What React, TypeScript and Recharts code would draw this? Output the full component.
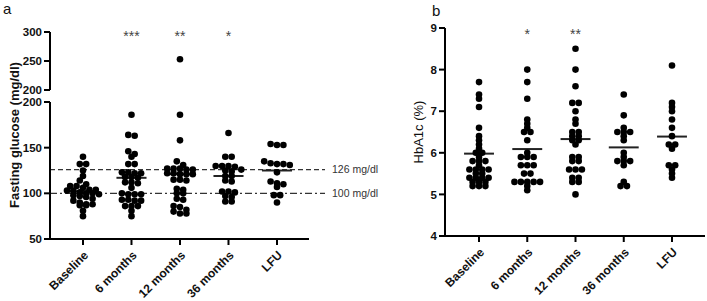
import { ScatterChart, Scatter, XAxis, YAxis, ReferenceLine } from 'recharts';

const categories = ['Baseline', '6 months', '12 months', '36 months', 'LFU'];

// fasting glucose (mg/dl)
const glucoseBaseline = [140, 132, 132, 125, 119, 114, 110, 108, 108, 106, 104, 104, 103, 103, 101, 100, 100, 99, 98, 97, 96, 94, 92, 90, 88, 88, 87, 87, 81, 75];
const glucose6m = [186, 163, 164, 146, 143, 140, 132, 132, 123, 123, 122, 122, 118, 118, 117, 112, 112, 111, 106, 100, 99, 99, 99, 93, 93, 92, 92, 86, 86, 86, 81, 75];
const glucose12m = [253, 186, 158, 135, 131, 127, 127, 127, 126, 126, 122, 122, 121, 121, 121, 115, 115, 114, 105, 104, 100, 100, 94, 93, 86, 85, 82, 80, 78, 78];
const glucose36m = [166, 140, 140, 130, 130, 130, 129, 126, 125, 124, 119, 119, 114, 113, 102, 102, 101, 97, 96, 91, 91];
const glucoseLfu = [153, 153, 154, 135, 132, 132, 133, 131, 123, 113, 110, 111, 107, 98, 98, 90];
const glucoseMeans = [102, 117, 121, 119, 125];
const glucoseStars = ['', '***', '**', '*', ''];

// HbA1c (%)
const hba1cBaseline = [7.7, 7.4, 7.3, 7.1, 6.6, 6.4, 6.3, 6.2, 6.1, 6.0, 6.0, 5.9, 5.8, 5.8, 5.8, 5.7, 5.6, 5.6, 5.6, 5.6, 5.5, 5.5, 5.4, 5.4, 5.4, 5.4, 5.3, 5.3, 5.3, 5.2, 5.2, 5.2];
const hba1c6m = [8.0, 7.7, 7.3, 6.8, 6.7, 6.6, 6.5, 6.5, 6.3, 6.0, 5.9, 5.9, 5.9, 5.7, 5.7, 5.7, 5.5, 5.5, 5.3, 5.3, 5.3, 5.3, 5.3, 5.2, 5.1];
const hba1c12m = [8.5, 8.0, 7.6, 7.2, 7.2, 7.0, 6.8, 6.7, 6.5, 6.5, 6.4, 6.4, 6.3, 6.3, 6.2, 5.9, 5.9, 5.8, 5.8, 5.6, 5.6, 5.6, 5.4, 5.4, 5.3, 5.3, 5.0];
const hba1c36m = [7.4, 6.9, 6.6, 6.5, 6.5, 6.5, 6.4, 6.3, 6.0, 5.9, 5.8, 5.8, 5.8, 5.7, 5.3, 5.2, 5.2];
const hba1cLfu = [8.1, 7.2, 7.1, 7.0, 6.8, 6.6, 6.4, 6.2, 6.2, 6.1, 5.7, 5.7, 5.6, 5.5, 5.4];
const hba1cMeans = [5.98, 6.09, 6.33, 6.13, 6.39];
const hba1cStars = ['', '*', '**', '', ''];

// scatter dots into centred rows, like a column scatter plot
function swarm(groups: number[][], pxPerUnit: number, pxPerCat: number) {
  const pts: { x: number; y: number }[] = [];
  groups.forEach((vals, i) => {
    const sorted = [...vals].sort((a, b) => b - a);
    let row: number[] = [];
    const flush = () => {
      row.forEach((v, k) => pts.push({ x: i + ((k - (row.length - 1) / 2) * 6.4) / pxPerCat, y: v }));
      row = [];
    };
    sorted.forEach((v) => {
      if (row.length && (row[0] - v) * pxPerUnit > 4) flush();
      row.push(v);
    });
    flush();
  });
  return pts;
}

const glucosePts = swarm([glucoseBaseline, glucose6m, glucose12m, glucose36m, glucoseLfu], 0.91, 48.5);
const glucoseLow = glucosePts.filter((p) => p.y <= 200);
const glucoseHigh = glucosePts.filter((p) => p.y > 200);
const hba1cPts = swarm([hba1cBaseline, hba1c6m, hba1c12m, hba1c36m, hba1cLfu], 41.5, 48.25);

const starsA = glucoseStars.map((s, i) => ({ x: i, y: 300, label: s })).filter((d) => d.label);
const starsB = hba1cStars.map((s, i) => ({ x: i, y: 9, label: s })).filter((d) => d.label);

const axisLine = { stroke: '#000', strokeWidth: 2 };

const YTick = ({ x, y, payload }: any) => (
  <text x={x} y={y} dy="0.36em" textAnchor="end" fontSize={11.5} fontWeight={700} fill="#111">
    {payload.value}
  </text>
);

const RotTick = ({ x, y, payload }: any) => (
  <g transform={`translate(${x + 3},${y + 6})`}>
    <text textAnchor="end" transform="rotate(-45)" dy="0.35em" fontSize={12} fontWeight={700} fill="#111">
      {categories[payload.value]}
    </text>
  </g>
);

const dot = (p: any) => <circle cx={p.cx} cy={p.cy} r={3.3} fill="#000" />;
const star = (off: number) => (p: any) => (
  <text x={p.cx} y={p.cy + off} textAnchor="middle" fontSize={14} fill="#444">
    {p.payload.label}
  </text>
);

const meanLines = (means: number[], half: number) =>
  means.map((m, i) => (
    <ReferenceLine
      key={'m' + i}
      segment={[{ x: i - half, y: m }, { x: i + half, y: m }]}
      stroke="#222"
      strokeWidth={2}
      ifOverflow="visible"
    />
  ));

export default function App() {
  const box = { position: 'absolute' as const, left: 0, top: 0 };
  return (
    <div style={{ position: 'absolute', left: 0, top: 0, width: 707, height: 301, background: '#fff', fontFamily: '"Liberation Sans", Arial, sans-serif' }}>
      {/* panel a, upper segment */}
      <div style={box}>
        <ScatterChart width={400} height={301} margin={{ top: 32, right: 91, bottom: 211, left: 0 }}>
          <XAxis type="number" dataKey="x" domain={[-0.68, 4.66]} hide />
          <YAxis type="number" dataKey="y" domain={[200, 300]} ticks={[200, 250, 300]} width={50}
            axisLine={axisLine} tickLine={axisLine} tick={<YTick />} />
          <Scatter data={glucoseHigh} shape={dot} isAnimationActive={false} />
          <Scatter data={starsA} shape={star(9)} isAnimationActive={false} />
        </ScatterChart>
      </div>
      {/* panel a, lower segment */}
      <div style={box}>
        <ScatterChart width={400} height={301} margin={{ top: 102, right: 91, bottom: 2, left: 0 }}>
          <XAxis type="number" dataKey="x" domain={[-0.68, 4.66]} ticks={[0, 1, 2, 3, 4]} height={60}
            axisLine={axisLine} tickLine={axisLine} tick={<RotTick />} interval={0} />
          <YAxis type="number" dataKey="y" domain={[50, 200]} ticks={[50, 100, 150, 200]} width={50}
            axisLine={axisLine} tickLine={axisLine} tick={<YTick />} />
          <ReferenceLine segment={[{ x: -0.68, y: 126 }, { x: 4.99, y: 126 }]} stroke="#333" strokeWidth={1.3}
            strokeDasharray="5 3" ifOverflow="visible"
            label={{ value: '126 mg/dl', position: 'right', fontSize: 10.5, fill: '#333', offset: 7 }} />
          <ReferenceLine segment={[{ x: -0.68, y: 100 }, { x: 4.99, y: 100 }]} stroke="#333" strokeWidth={1.3}
            strokeDasharray="7 3 2 3" ifOverflow="visible"
            label={{ value: '100 mg/dl', position: 'right', fontSize: 10.5, fill: '#333', offset: 7 }} />
          {meanLines(glucoseMeans, 0.31)}
          <Scatter data={glucoseLow} shape={dot} isAnimationActive={false} />
        </ScatterChart>
      </div>
      {/* panel b */}
      <div style={{ position: 'absolute', left: 395, top: 0 }}>
        <ScatterChart width={312} height={301} margin={{ top: 28, right: 2, bottom: 5, left: 0 }}>
          <XAxis type="number" dataKey="x" domain={[-0.705, 4.684]} ticks={[0, 1, 2, 3, 4]} height={60}
            axisLine={axisLine} tickLine={axisLine} tick={<RotTick />} interval={0} />
          <YAxis type="number" dataKey="y" domain={[4, 9]} ticks={[4, 5, 6, 7, 8, 9]} width={50}
            axisLine={axisLine} tickLine={axisLine} tick={<YTick />} />
          {meanLines(hba1cMeans, 0.31)}
          <Scatter data={hba1cPts} shape={dot} isAnimationActive={false} />
          <Scatter data={starsB} shape={star(11)} isAnimationActive={false} />
        </ScatterChart>
      </div>
      <svg width={707} height={301} style={{ position: 'absolute', left: 0, top: 0, pointerEvents: 'none' }}>
        <text x={3} y={14} fontSize={15} fill="#111">a</text>
        <text x={432} y={16} fontSize={15} fill="#111">b</text>
        <text transform="translate(19,135) rotate(-90)" textAnchor="middle" fontSize={13} fontWeight={700} fill="#111">
          Fasting glucose (mg/dl)
        </text>
        <text transform="translate(423,132) rotate(-90)" textAnchor="middle" fontSize={13} fill="#111">
          HbA1c (%)
        </text>
      </svg>
    </div>
  );
}
